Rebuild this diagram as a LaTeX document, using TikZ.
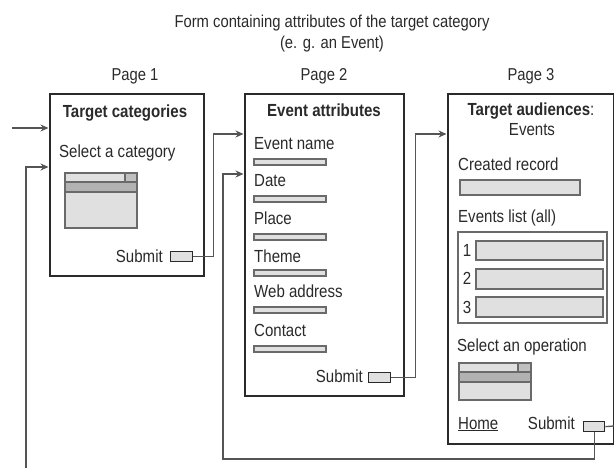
\documentclass[tikz,border=0pt]{standalone}
\usepackage{fontspec}
\setmainfont[FakeStretch=0.86]{Liberation Sans}
\usetikzlibrary{arrows.meta}
\definecolor{ink}{HTML}{2A2A2A}
\definecolor{wire}{HTML}{555555}
\definecolor{fieldfill}{HTML}{E0E0E0}
\definecolor{fieldline}{HTML}{6A6A6A}
\definecolor{barfill}{HTML}{B2B2B2}
\begin{document}
\begin{tikzpicture}[x=1pt,y=-1pt,
  txt/.style={font=\fontsize{17.5}{19}\selectfont, text=ink, inner sep=0pt},
  hdr/.style={font=\fontsize{17.5}{19}\selectfont\bfseries, text=ink, inner sep=0pt},
  captxt/.style={font=\fontsize{17.2}{19}\selectfont, text=ink, inner sep=0pt},
  pagebox/.style={draw=ink, line width=1.6pt, anchor=north west, inner sep=0pt, fill=white},
  field/.style={draw=fieldline, line width=1.1pt, fill=fieldfill},
  btn/.style={draw=ink, line width=1.3pt, fill=fieldfill, anchor=north west, inner sep=0pt},
  conn/.style={draw=wire, line width=1.3pt},
  arr/.style={conn, -{Stealth[length=8pt,width=7pt]}, shorten >=0.5pt}
]
\useasboundingbox (0,0) rectangle (614,468);

% heading
\node[captxt, anchor=base] (head1) at (332,28) {Form containing attributes of the target category};
\node[captxt, anchor=base] (head2) at (332,49) {(e. g. an Event)};

% page frames
\node[pagebox, minimum width=154pt, minimum height=182pt] (p1) at (49,93) {};
\node[pagebox, minimum width=159pt, minimum height=302pt] (p2) at (244,93) {};
\node[pagebox, minimum width=166pt, minimum height=350pt] (p3) at (447,93) {};

\node[captxt, anchor=base] (lab1) at (135,81) {Page 1};
\node[captxt, anchor=base] (lab2) at (324,81) {Page 2};
\node[captxt, anchor=base] (lab3) at (531,81) {Page 3};

% ---- page 1: target categories
\node[hdr, anchor=base] (t1) at (125,118) {Target categories};
\node[txt, anchor=base west] (sel1) at (59,158) {Select a category};
\draw[field] (65,173) rectangle (137,182);
\draw[field, fill=barfill!70!fieldfill] (125,173) rectangle (137,182);
\draw[field, fill=barfill] (65,182) rectangle (137,192);
\draw[field] (65,192) rectangle (137,228);
\node[txt, anchor=base east] (s1) at (163,262) {Submit};
\node[btn, minimum width=22pt, minimum height=10pt] (b1) at (170,251) {};

% ---- page 2: event attributes
\node[hdr, anchor=base] (t2) at (324,117) {Event attributes};
\node[txt, anchor=base west] (f1) at (254,150) {Event name};
\draw[field] (254,159) rectangle (326,165);
\node[txt, anchor=base west] (f2) at (254,187) {Date};
\draw[field] (254,196) rectangle (326,202);
\node[txt, anchor=base west] (f3) at (254,225) {Place};
\draw[field] (254,234) rectangle (326,240);
\node[txt, anchor=base west] (f4) at (254,262) {Theme};
\draw[field] (254,270) rectangle (326,276);
\node[txt, anchor=base west] (f5) at (254,298) {Web address};
\draw[field] (254,307) rectangle (326,313);
\node[txt, anchor=base west] (f6) at (254,337) {Contact};
\draw[field] (254,346) rectangle (326,352);
\node[txt, anchor=base east] (s2) at (363,382) {Submit};
\node[btn, minimum width=22pt, minimum height=10pt] (b2) at (368,372) {};

% ---- page 3: target audiences
\node[hdr, anchor=base] (t3) at (531,116) {Target audiences\textmd{:}};
\node[txt, anchor=base] (t3b) at (532,136) {Events};
\node[txt, anchor=base west] (rec) at (458,171) {Created record};
\draw[field] (460,180) rectangle (580,195);
\node[txt, anchor=base west] (lst) at (458,223) {Events list (all)};
\draw[draw=fieldline, line width=1.1pt] (458,232) rectangle (607,323);
\node[txt, anchor=base] (n1) at (467,257) {1};
\draw[field] (476,241) rectangle (603,260);
\node[txt, anchor=base] (n2) at (467,285) {2};
\draw[field] (476,269) rectangle (603,289);
\node[txt, anchor=base] (n3) at (467,313) {3};
\draw[field] (476,297) rectangle (603,317);
\node[txt, anchor=base west] (op) at (457,352) {Select an operation};
\draw[field] (459,363) rectangle (531,372);
\draw[field, fill=barfill!70!fieldfill] (518,363) rectangle (531,372);
\draw[field, fill=barfill] (459,372) rectangle (531,382);
\draw[field] (459,382) rectangle (531,400);
\node[txt, anchor=base west] (home) at (458,429) {\underline{Home}};
\node[txt, anchor=base east] (s3) at (575,429) {Submit};
\node[btn, minimum width=21pt, minimum height=10pt] (b3) at (583,421) {};

% ---- connectors
\coordinate (in1) at (12,128);
\coordinate (in2) at (26,468);
\coordinate (out3) at (614,426);
\draw[arr] (in1) -- (p1.west |- in1);
\draw[arr] (in2) |- (p1.west |- 0,167);
\draw[arr] (b1.east) -- ++(20,0) |- (p2.west |- 0,134);
\draw[arr] (b2.east) -- ++(24,0) |- (p3.west |- 0,134);
\draw[arr] (b3.south) |- (223,459) |- (p2.west |- 0,174);
\draw[conn] (b3.east) -- (out3);
\end{tikzpicture}
\end{document}
